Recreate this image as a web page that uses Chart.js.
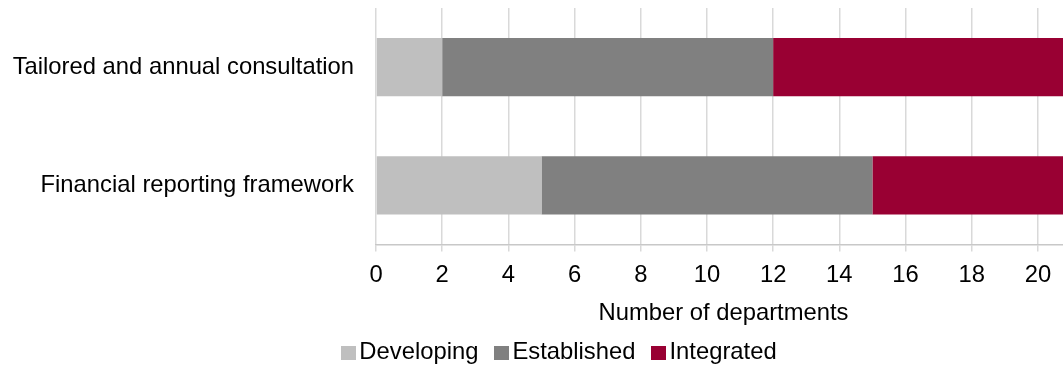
<!DOCTYPE html>
<html>
<head>
<meta charset="utf-8">
<script src="https://cdn.jsdelivr.net/npm/chart.js@4.4.1/dist/chart.umd.min.js"></script>
<style>
  html, body { margin: 0; padding: 0; overflow: hidden; background: #fff; }
  #wrap { position: relative; width: 1118px; height: 365px; }
  #legend {
    position: absolute; left: 0; top: 337px; width: 1118px;
    text-align: center; font-family: "Liberation Sans", Arial, sans-serif;
    font-size: 23.8px; color: #000; white-space: nowrap;
  }
  #legend span.item { display: inline-block; margin: 0 8px; }
  #legend span.box { display: inline-block; width: 15px; height: 14px; margin-right: 3px; vertical-align: -1px; }
</style>
</head>
<body>
<div id="wrap">
  <canvas id="chart"></canvas>
  <div id="legend"></div>
</div>
<script>
const categories = ['Tailored and annual consultation', 'Financial reporting framework'];
const developing = [2, 5];
const established = [10, 10];
const integrated = [9, 6];
const seriesNames = ['Developing', 'Established', 'Integrated'];
const seriesColors = ['#BFBFBF', '#808080', '#990033'];
const xTicks = [0, 2, 4, 6, 8, 10, 12, 14, 16, 18, 20];
const axisTitle = 'Number of departments';

const FONT = "'Liberation Sans', Arial, sans-serif";
const SIZE = 23.8;

const chart = new Chart(document.getElementById('chart'), {
  type: 'bar',
  data: {
    labels: categories,
    datasets: [developing, established, integrated].map((vals, i) => ({
      label: seriesNames[i],
      data: vals,
      backgroundColor: seriesColors[i],
      borderWidth: 0,
      categoryPercentage: 1,
      barPercentage: 0.493
    }))
  },
  options: {
    indexAxis: 'y',
    responsive: true,
    maintainAspectRatio: false,
    animation: false,
    layout: { padding: { left: 0, right: 47, top: 8, bottom: 37.5 } },
    plugins: { legend: { display: false }, tooltip: { enabled: false } },
    scales: {
      x: {
        stacked: true,
        min: 0,
        max: 21,
        afterBuildTicks: (s) => { s.ticks = xTicks.map(v => ({ value: v })); },
        ticks: { color: '#000', font: { family: FONT, size: SIZE }, padding: 9.5 },
        grid: { color: '#D9D9D9', lineWidth: 1.5, tickLength: 7 },
        border: { color: '#C8C8C8', width: 1.5 },
        title: { display: true, text: axisTitle, color: '#000', font: { family: FONT, size: SIZE }, padding: { top: 0, bottom: 0 } }
      },
      y: {
        stacked: true,
        afterFit: (s) => { s.width = 376; s.paddingTop = 0; s.paddingBottom = 0; },
        ticks: { color: '#000', font: { family: FONT, size: SIZE }, padding: 22 },
        grid: { display: false, drawTicks: false },
        border: { display: false }
      }
    }
  }
});

// legend built from the chart's datasets
const legend = document.getElementById('legend');
chart.data.datasets.forEach(ds => {
  const item = document.createElement('span');
  item.className = 'item';
  const box = document.createElement('span');
  box.className = 'box';
  box.style.background = ds.backgroundColor;
  item.appendChild(box);
  item.appendChild(document.createTextNode(ds.label));
  legend.appendChild(item);
});
</script>
</body>
</html>
